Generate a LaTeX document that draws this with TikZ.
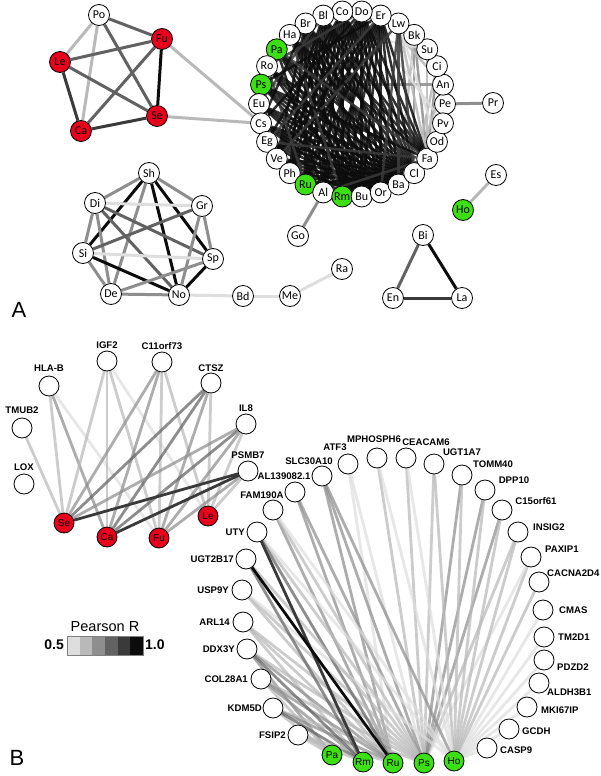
\documentclass[tikz,border=0pt]{standalone}
\usepackage{fontspec}
\newfontfamily\carl{Carlito}
\newfontfamily\arial{Liberation Sans}
\usetikzlibrary{calc}
\definecolor{redn}{RGB}{232,0,28}
\definecolor{grn}{RGB}{60,222,20}
\definecolor{sa}{RGB}{222,222,222}
\definecolor{sb}{RGB}{185,185,185}
\definecolor{sc}{RGB}{142,142,142}
\definecolor{sd}{RGB}{98,98,98}
\definecolor{se}{RGB}{58,58,58}
\definecolor{sf}{RGB}{12,12,12}
\pgfdeclarelayer{bgl}
\pgfdeclarelayer{edges}
\pgfsetlayers{bgl,edges,main}
\tikzset{
 nd/.style={circle,draw=black,line width=0.8pt,fill=white,minimum size=21pt,inner sep=0pt,font=\carl\fontsize{12}{12}\selectfont},
 bn/.style={circle,draw=black,line width=0.8pt,fill=white,minimum size=20pt,inner sep=0pt,font=\arial\fontsize{10}{10}\selectfont},
 lb/.style={font=\arial\bfseries\fontsize{9.6}{9.6}\selectfont,inner sep=0pt},
 ed/.style={line width=3pt},
 edc/.style={line width=2.5pt,draw opacity=0.85},
 edb/.style={line width=2.8pt,draw opacity=0.72},
 edk/.style={line width=2.8pt},
 panel/.style={font=\arial\fontsize{22}{22}\selectfont,inner sep=0pt},
}
\begin{document}
\begin{tikzpicture}[x=1pt,y=-1pt]
\useasboundingbox (0,0) rectangle (600,776);
\begin{pgfonlayer}{bgl}
\fill[white] (0,0) rectangle (600,776);
\end{pgfonlayer}
% ---------------- Panel A ----------------
\node[nd] (APo) at (99,15) {Po};
\node[nd,fill=redn] (AFu) at (162,39) {Fu};
\node[nd,fill=redn] (ALe) at (60,62) {Le};
\node[nd,fill=redn] (ASe) at (157,116) {Se};
\node[nd,fill=redn] (ACa) at (81,131) {Ca};
\foreach \n/\f [count=\i from 0] in {Pe/white,An/white,Ci/white,Su/white,Bk/white,Lw/white,Er/white,Do/white,Co/white,Bl/white,Br/white,Ha/white,Pa/grn,Ro/white,Ps/grn,Eu/white,Cs/white,Eg/white,Ve/white,Ph/white,Ru/grn,Al/white,Rm/grn,Bu/white,Or/white,Ba/white,Cl/white,Fa/white,Od/white,Pv/white}
  \node[nd,fill=\f] (A\n) at ({352+93*cos(12*\i)},{104-93*sin(12*\i)}) {\n};
\node[nd] (APr) at (493,103) {Pr};
\node[nd] (AEs) at (496,175) {Es};
\node[nd,fill=grn] (AHo) at (463,210) {Ho};
\node[nd] (AGo) at (298,236) {Go};
\node[nd] (ABi) at (423,235) {Bi};
\node[nd] (AEn) at (393,298) {En};
\node[nd] (ALa) at (462,298) {La};
\node[nd] (ASh) at (149,173) {Sh};
\node[nd] (ADi) at (95,203) {Di};
\node[nd] (AGr) at (202,206) {Gr};
\node[nd] (ASi) at (83,253) {Si};
\node[nd] (ASp) at (213,259) {Sp};
\node[nd] (ADe) at (111,294) {De};
\node[nd] (ANo) at (179,295) {No};
\node[nd] (ABd) at (243,296) {Bd};
\node[nd] (AMe) at (290,296) {Me};
\node[nd] (ARa) at (342,269) {Ra};
\node[panel] (labA) at (19,310) {A};
% ---------------- Panel B ----------------
\node[bn] (bHLAB) at (49,386) {};   \node[lb] (tHLAB) at (49,368) {HLA-B};
\node[bn] (bIGF) at (107,361) {};   \node[lb] (tIGF) at (107,345) {IGF2};
\node[bn] (bC11) at (162,362) {};   \node[lb] (tC11) at (162,346) {C11orf73};
\node[bn] (bCTSZ) at (211,383) {};  \node[lb] (tCTSZ) at (211,368) {CTSZ};
\node[bn] (bTMUB) at (22,428) {};   \node[lb] (tTMUB) at (22,410) {TMUB2};
\node[bn] (bIL) at (246,424) {};    \node[lb] (tIL) at (246,408) {IL8};
\node[bn] (bLOX) at (24,484) {};    \node[lb] (tLOX) at (24,467) {LOX};
\node[bn] (bPSMB) at (248,471) {};  \node[lb] (tPSMB) at (248,455) {PSMB7};
\node[bn,fill=redn] (bSe) at (64,523) {Se};
\node[bn,fill=redn] (bCa) at (107,537) {Ca};
\node[bn,fill=redn] (bFu) at (159,538) {Fu};
\node[bn,fill=redn] (bLe) at (208,516) {Le};
% upper arc
\node[bn] (bFAM) at (273,510) {};   \node[lb] (tFAM) at (262,495) {FAM190A};
\node[bn] (bAL) at (295,492) {};    \node[lb] (tAL) at (284,476) {AL139082.1};
\node[bn] (bSLC) at (322,476) {};   \node[lb] (tSLC) at (309,461) {SLC30A10};
\node[bn] (bATF) at (348,464) {};   \node[lb] (tATF) at (335,447) {ATF3};
\node[bn] (bMPH) at (377,458) {};   \node[lb] (tMPH) at (374,439) {MPHOSPH6};
\node[bn] (bCEA) at (406,458) {};   \node[lb] (tCEA) at (426,442) {CEACAM6};
\node[bn] (bUGTa) at (434,464) {};  \node[lb] (tUGTa) at (462,452) {UGT1A7};
\node[bn] (bTOM) at (462,475) {};   \node[lb] (tTOM) at (493,464) {TOMM40};
\node[bn] (bDPP) at (485,490) {};   \node[lb] (tDPP) at (514,480) {DPP10};
\node[bn] (bC15) at (502,510) {};   \node[lb] (tC15) at (536,501) {C15orf61};
% right column
\node[bn] (bINS) at (518,532) {};   \node[lb,anchor=west] (tINS) at (533,527) {INSIG2};
\node[bn] (bPAX) at (531,557) {};   \node[lb,anchor=west] (tPAX) at (545,549) {PAXIP1};
\node[bn] (bCAC) at (539,582) {};   \node[lb,anchor=west] (tCAC) at (547,573) {CACNA2D4};
\node[bn] (bCMA) at (543,610) {};   \node[lb,anchor=west] (tCMA) at (559,610) {CMAS};
\node[bn] (bTM) at (544,637) {};    \node[lb,anchor=west] (tTM) at (558,637) {TM2D1};
\node[bn] (bPDZ) at (544,660) {};   \node[lb,anchor=west] (tPDZ) at (557,667) {PDZD2};
\node[bn] (bALD) at (539,683) {};   \node[lb,anchor=west] (tALD) at (547,692) {ALDH3B1};
\node[bn] (bMKI) at (527,707) {};   \node[lb,anchor=west] (tMKI) at (541,710) {MKI67IP};
\node[bn] (bGCD) at (509,729) {};   \node[lb,anchor=west] (tGCD) at (522,731) {GCDH};
\node[bn] (bCAS) at (487,748) {};   \node[lb,anchor=west] (tCAS) at (500,750) {CASP9};
% left column
\node[bn] (bUTY) at (257,532) {};   \node[lb,anchor=east] (tUTY) at (245,532) {UTY};
\node[bn] (bUGTb) at (246,559) {};  \node[lb,anchor=east] (tUGTb) at (234,559) {UGT2B17};
\node[bn] (bUSP) at (242,590) {};   \node[lb,anchor=east] (tUSP) at (229,590) {USP9Y};
\node[bn] (bARL) at (243,622) {};   \node[lb,anchor=east] (tARL) at (230,622) {ARL14};
\node[bn] (bDDX) at (247,649) {};   \node[lb,anchor=east] (tDDX) at (235,649) {DDX3Y};
\node[bn] (bCOL) at (261,679) {};   \node[lb,anchor=east] (tCOL) at (248,679) {COL28A1};
\node[bn] (bKDM) at (273,708) {};   \node[lb,anchor=east] (tKDM) at (262,708) {KDM5D};
\node[bn] (bFSI) at (298,735) {};   \node[lb,anchor=east] (tFSI) at (286,735) {FSIP2};
% green
\node[bn,fill=grn] (bPa) at (332,755) {Pa};
\node[bn,fill=grn] (bRm) at (363,762) {Rm};
\node[bn,fill=grn] (bRu) at (393,763) {Ru};
\node[bn,fill=grn] (bPs) at (424,763) {Ps};
\node[bn,fill=grn] (bHo) at (454,761) {Ho};
% legend
\node[font=\arial\fontsize{14.5}{14.5}\selectfont,inner sep=0pt] (legT) at (105,627) {Pearson R};
\foreach \c [count=\k from 0] in {sa,sb,sc,sd,se,sf}
  \fill[\c] ({67+12.67*\k},636) rectangle ({67+12.67*(\k+1)},655);
\draw[gray,line width=0.8pt] (67,636) rectangle (143,655);
\node[font=\arial\bfseries\fontsize{14}{14}\selectfont,inner sep=0pt,anchor=east] (leg0) at (64,645) {0.5};
\node[font=\arial\bfseries\fontsize{14}{14}\selectfont,inner sep=0pt,anchor=west] (leg1) at (145,645) {1.0};
\node[panel] (labB) at (17,758) {B};
% ---------------- Edges ----------------
\begin{pgfonlayer}{edges}
% panel A top-left
\foreach \a/\b/\c in {Po/Le/sb,Po/Ca/sb,Po/Fu/sd,Po/Se/sd,Le/Fu/sd,Le/Se/sd,Le/Ca/se,Fu/Ca/sd,Fu/Se/sf,Ca/Se/se,Fu/Cs/sb,Se/Cs/sb}
  \draw[ed,draw=\c] (A\a)--(A\b);
% big circle - gray edges
\foreach \a/\b/\c in {Bk/Cl/sc,Bk/Fa/sc,Bk/Ba/sb,Lw/Fa/sb,Su/Fa/sb,Ci/Fa/sc,Ci/Cl/sb,An/Ps/sc,Er/An/sb,Od/Lw/sa,Pv/Do/sa,Su/Br/sa,An/Cl/sb}
  \draw[edc,draw=\c] (A\a)--(A\b);
\foreach \a/\b/\c in {Pe/Pr/sc,Al/Go/sc,Ho/Es/sb}
  \draw[ed,draw=\c] (A\a)--(A\b);
% big circle - dense black edges
\foreach \a in {Ha,Pa,Ro,Ps,Eu,Cs,Eg,Ve,Ph}
  \foreach \b in {Cl,Ba,Or,Bu}
    \draw[edc,draw=sf] (A\a)--(A\b);
\foreach \a in {Br,Bl,Co,Do,Er}
  \foreach \b in {Cl,Ba,Or,Bu,Rm,Al,Ru,Ph,Ve,Fa}
    \draw[edc,draw=sf] (A\a)--(A\b);
\foreach \a/\b/\c in {Ha/Rm/se,Pa/Al/sf,Ro/Ru/se,Co/Eg/sf,Do/Cs/sf,Bl/Eu/se,Er/Ps/sf,Lw/Cl/se,Lw/Ba/se,Lw/Ve/se,Ru/Cl/sf,Al/Cl/sf,Rm/Cl/sf,Ru/Ba/sf,Al/Fa/se,Ha/Fa/sf,Pa/Fa/se,Ps/Fa/sf,Eg/Fa/se,Co/Ha/se,Bl/Pa/sf,Do/Ro/se,Br/Cs/sf,Er/Eg/se,Lw/Or/se}
  \draw[edc,draw=\c] (A\a)--(A\b);
% middle cluster
\foreach \a/\b/\c in {Sh/Di/sc,Sh/Gr/sc,Sh/Si/sf,Sh/Sp/sf,Sh/No/sf,Sh/De/sc,Di/Gr/sa,Di/Si/sc,Di/De/sc,Di/No/sd,Di/Sp/sd,Gr/Si/sd,Gr/Sp/sc,Gr/No/sc,Si/Sp/sa,Si/No/sf,Si/De/sc,Sp/No/sf,Sp/De/sc,De/No/sc,No/Bd/sa,Bd/Me/sa,Me/Ra/sa,Bi/En/sd,Bi/La/sf,En/La/se}
  \draw[ed,draw=\c] (A\a)--(A\b);
% panel B red cluster
\foreach \a/\b/\c in {HLAB/Se/sb,HLAB/Ca/sc,HLAB/Fu/sa,TMUB/Se/sb,IGF/Se/sb,IGF/Ca/sb,IGF/Fu/sb,IGF/Le/sa,C11/Se/sc,C11/Ca/sc,C11/Fu/sb,C11/Le/sb,CTSZ/Se/sd,CTSZ/Ca/sd,CTSZ/Fu/sc,CTSZ/Le/sb,IL/Se/sc,IL/Ca/sd,IL/Fu/sc,IL/Le/sb,PSMB/Fu/sc,PSMB/Le/sb}
  \draw[edb,draw=\c] (b\a)--(b\b);
% panel B green fan
\foreach \a/\b/\c in {CAS/Ho/sa,GCD/Ho/sa,MKI/Ho/sa,ALD/Ho/sa,PDZ/Ho/sa,TM/Ho/sa,CMA/Ho/sa,CAC/Ho/sb,PAX/Ho/sb,PAX/Ps/sa,INS/Ho/sb,INS/Ps/sb,C15/Ps/sc,C15/Ho/sb,DPP/Ps/sc,DPP/Ho/sb,TOM/Ps/sc,TOM/Ho/sb,UGTa/Ps/sb,UGTa/Ho/sb,CEA/Ps/sb,CEA/Ho/sa,MPH/Ps/sb,MPH/Ho/sa,ATF/Ps/sa,ATF/Ru/sa,SLC/Ru/sc,SLC/Ps/sc,SLC/Ho/sc,AL/Ru/sc,AL/Ps/sc,FAM/Ru/sc,FAM/Ps/sb,FAM/Ho/sa,USP/Ru/sb,USP/Ps/sb,USP/Ho/sa,ARL/Ru/sb,ARL/Ps/sb,ARL/Rm/sb,DDX/Ps/sb,DDX/Pa/sc,DDX/Ru/sc,COL/Ps/sb,COL/Pa/sb,COL/Ru/sc,COL/Rm/sc,KDM/Ps/sb,KDM/Pa/sb,KDM/Ru/sc,KDM/Rm/sd,FSI/Pa/sb,FSI/Rm/sb,FSI/Ru/sb,DDX/Rm/sd,UTY/Ps/sb,UTY/Ho/sa,UTY/Ru/sd,UGTb/Ps/sb,UGTb/Rm/sd}
  \draw[edb,draw=\c] (b\a)--(b\b);
% panel B darkest edges, opaque
\foreach \a/\b/\c in {PSMB/Se/se,PSMB/Ca/se,UTY/Rm/se,UGTb/Ru/sf}
  \draw[edk,draw=\c] (b\a)--(b\b);
\end{pgfonlayer}
\end{tikzpicture}
\end{document}
